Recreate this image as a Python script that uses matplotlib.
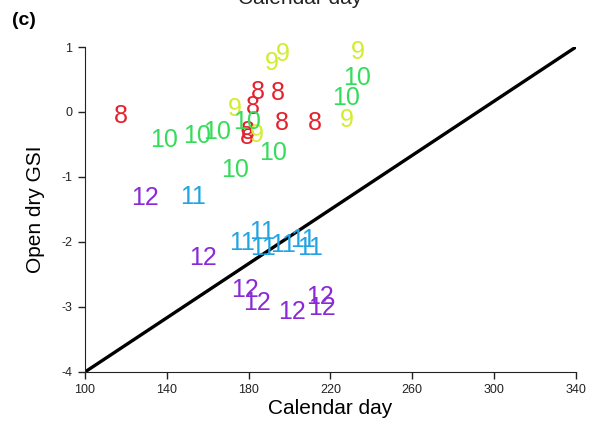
import matplotlib
matplotlib.use("Agg")
import matplotlib.pyplot as plt

plt.rcParams['font.family'] = ['Liberation Sans', 'DejaVu Sans']
plt.rcParams['axes.unicode_minus'] = False

# month labels placed at (calendar day, open dry GSI)
months = ["8", "8", "8", "8", "8", "8", "8", "8",
          "9", "9", "9", "9", "9", "9",
          "10", "10", "10", "10", "10", "10", "10", "10",
          "11", "11", "11", "11", "11", "11", "11",
          "12", "12", "12", "12", "12", "12", "12"]
days = [117.6, 184.6, 182.1, 179.7, 179.0, 194.3, 196.3, 212.4,
        173.3, 184.1, 191.4, 196.8, 228.0, 233.4,
        138.6, 154.7, 164.5, 179.2, 173.3, 191.9, 227.6, 233.0,
        152.8, 176.7, 186.5, 187.0, 196.8, 206.5, 210.0,
        129.3, 157.7, 178.2, 184.1, 201.2, 214.9, 215.8]
gsi = [-0.06, 0.31, 0.08, -0.31, -0.38, 0.29, -0.17, -0.17,
       0.05, -0.35, 0.75, 0.89, -0.12, 0.92,
       -0.43, -0.37, -0.31, -0.15, -0.89, -0.63, 0.22, 0.52,
       -1.31, -2.02, -1.85, -2.09, -2.05, -1.97, -2.09,
       -1.32, -2.25, -2.74, -2.94, -3.08, -2.85, -3.02]
month_colors = {"8": "#e3222d", "9": "#d2ec2e", "10": "#35dc5a",
                "11": "#22a4e2", "12": "#8a2ad6"}

line_x = [100, 340]
line_y = [-4, 1]
x_ticks = [100, 140, 180, 220, 260, 300, 340]
y_ticks = [-4, -3, -2, -1, 0, 1]

fig = plt.figure(figsize=(6.01, 4.34), dpi=100)
ax = fig.add_axes([0.1414, 0.1429, 0.8169, 0.7488])

ax.plot(line_x, line_y, color="black", lw=2.4, solid_capstyle="butt")

for m, d, g in zip(months, days, gsi):
    ax.text(d, g, m, color=month_colors[m], fontsize=18,
            ha="center", va="center")

ax.set_xlim(100, 340)
ax.set_ylim(-4, 1)
ax.set_xticks(x_ticks)
ax.set_yticks(y_ticks)
ax.spines["top"].set_visible(False)
ax.spines["right"].set_visible(False)
ax.spines["left"].set_color("#222222")
ax.spines["bottom"].set_color("#222222")
ax.tick_params(direction="out", length=5, width=1, labelsize=9,
               colors="#222222", pad=4)

ax.set_xlabel("Calendar day", fontsize=15, labelpad=2)
ax.set_ylabel("Open dry GSI", fontsize=15, labelpad=12)

fig.text(0.04, 0.952, "(c)", fontsize=14, fontweight="bold",
         ha="center", va="center")
# bottom of the label from the panel above, cut off by the figure edge
fig.text(0.5, 1.004, "Calendar day", fontsize=15, ha="center",
         va="center", color="#222222")

fig.savefig("out.png", dpi=100)
